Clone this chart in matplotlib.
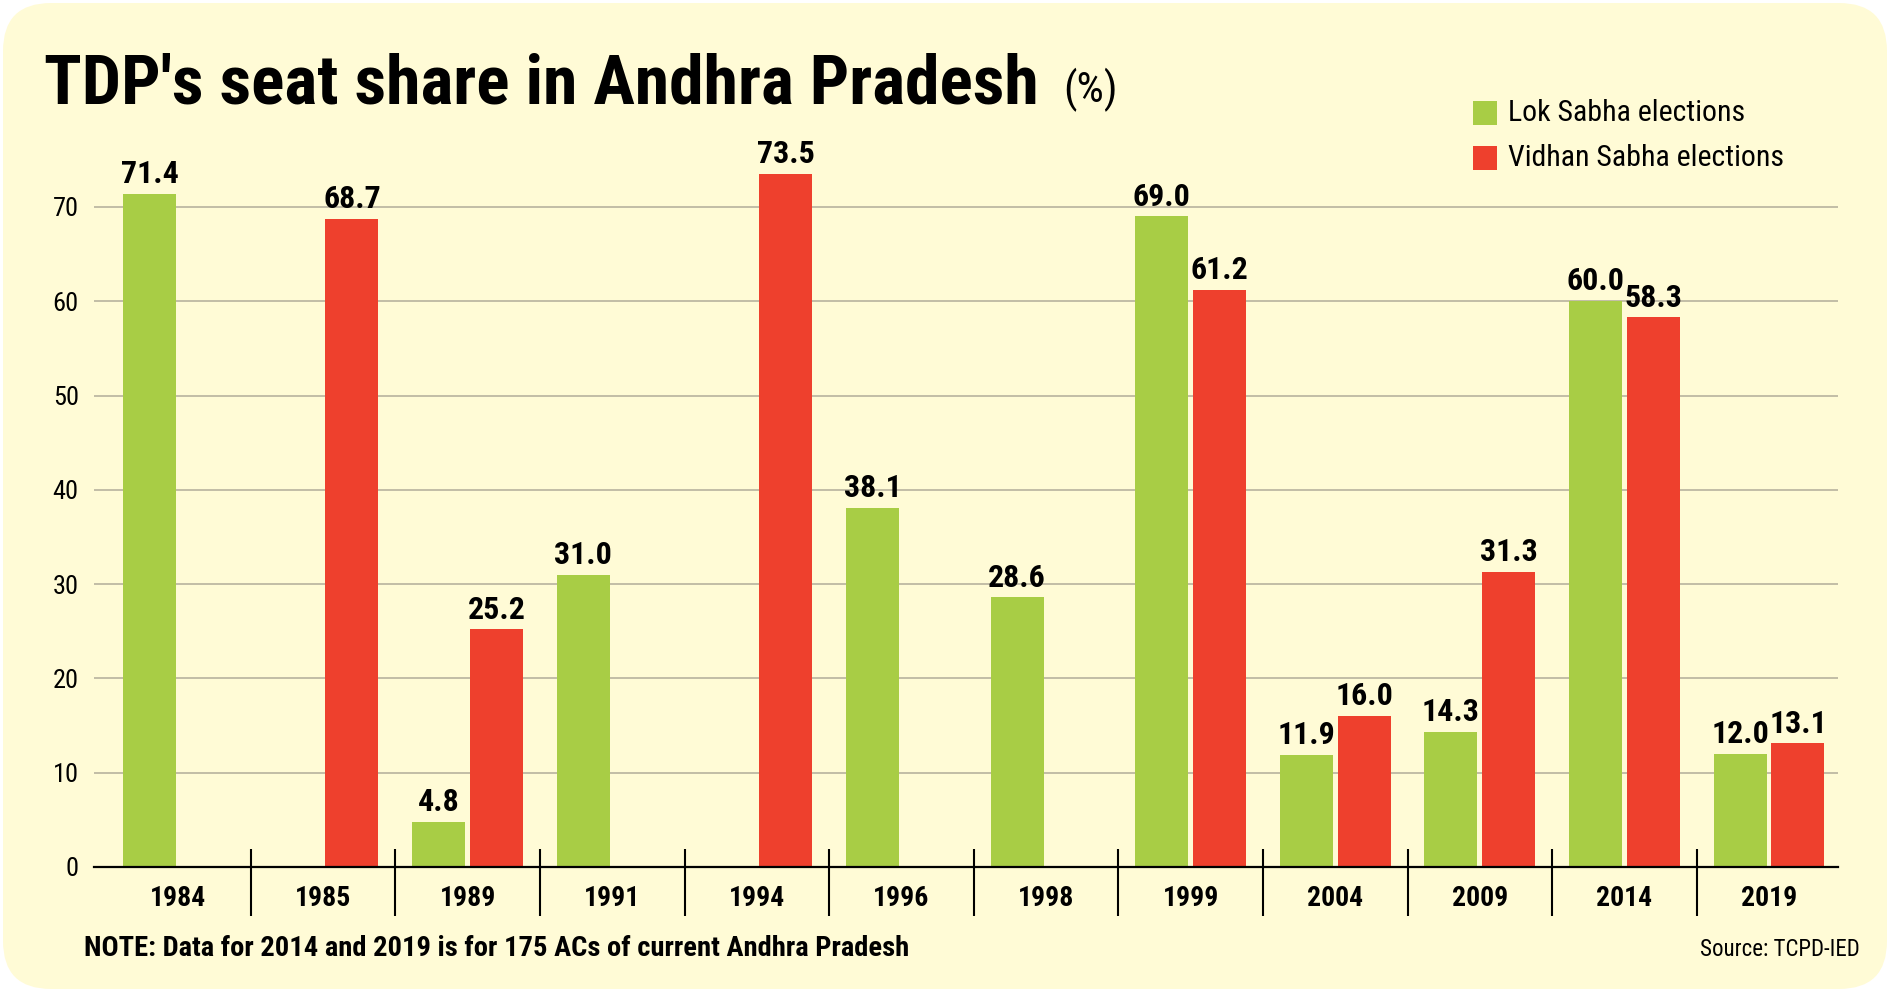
import numpy as np
import matplotlib
matplotlib.use("Agg")
import matplotlib.pyplot as plt
from matplotlib import font_manager
from matplotlib.patches import FancyBboxPatch, Rectangle

# data
years = ['1984', '1985', '1989', '1991', '1994', '1996', '1998',
         '1999', '2004', '2009', '2014', '2019']
lok_sabha = [71.4, np.nan, 4.8, 31.0, np.nan, 38.1, 28.6, 69.0, 11.9, 14.3, 60.0, 12.0]
vidhan_sabha = [np.nan, 68.7, 25.2, np.nan, 73.5, np.nan, np.nan, 61.2, 16.0, 31.3, 58.3, 13.1]
yticks = [0, 10, 20, 30, 40, 50, 60, 70]

green = '#A8CD45'
red = '#EE402D'
bg = '#FFFBD6'

# pick a narrow font if one is there
names = {f.name for f in font_manager.fontManager.ttflist}
fam = 'DejaVu Sans'
stretch = 'condensed'
for cand in ['Liberation Sans Narrow', 'Roboto Condensed', 'Open Sans Condensed']:
    if cand in names:
        fam = cand
        stretch = 'normal'
        break
plt.rcParams['font.family'] = [fam, 'DejaVu Sans']
plt.rcParams['font.stretch'] = stretch

W, H = 1890, 992
fig = plt.figure(figsize=(W / 100, H / 100), dpi=100, facecolor='white')

# rounded yellow card behind everything
bga = fig.add_axes([0, 0, 1, 1], zorder=0)
bga.set_xlim(0, W)
bga.set_ylim(H, 0)
bga.axis('off')
bga.add_patch(FancyBboxPatch((3, 3), W - 6, H - 6,
                             boxstyle='round,pad=0,rounding_size=48',
                             fc=bg, ec='none'))

# main axes, placed in pixels
x0, x1 = 94, 1838
y_zero = 867
px_unit = 9.43
ymax = 80
ax = fig.add_axes([x0 / W, 1 - y_zero / H, (x1 - x0) / W, ymax * px_unit / H], zorder=1)
ax.set_facecolor('none')

x = np.arange(len(years))
bw = 0.367
off = 0.2
ax.bar(x - off, lok_sabha, bw, color=green, zorder=3, label='Lok Sabha elections')
ax.bar(x + off, vidhan_sabha, bw, color=red, zorder=3, label='Vidhan Sabha elections')

for xs, vals in [(x - off, lok_sabha), (x + off, vidhan_sabha)]:
    for xi, v in zip(xs, vals):
        if not np.isnan(v):
            ax.text(xi, v + 0.5, f'{v:.1f}', ha='center', va='bottom',
                    fontsize=23, fontweight='bold', color='black', zorder=4)

ax.set_xlim(-0.584, 11.477)
ax.set_ylim(0, ymax)
ax.set_yticks(yticks)
ax.set_yticklabels([str(t) for t in yticks], fontsize=19)
ax.tick_params(axis='y', length=0, pad=11)
for t in yticks[1:]:
    ax.axhline(t, color='#BDB8A3', lw=1.3, zorder=1)
ax.axhline(0, color='black', lw=1.6, zorder=5, clip_on=False)

ax.set_xticks(x)
ax.set_xticklabels(years, fontsize=20, fontweight='bold')
ax.tick_params(axis='x', length=0, pad=13)

# category separators
ax.vlines(x[:-1] + 0.5, -5.2, 1.9, color='black', lw=1.5, clip_on=False, zorder=5)

for s in ax.spines.values():
    s.set_visible(False)

# title
fig.text(44 / W, 1 - 104 / H, "TDP's seat share in Andhra Pradesh", fontsize=50,
         fontweight='bold', ha='left', va='baseline')
fig.text(1063 / W, 1 - 102 / H, '(%)', fontsize=31, ha='left', va='baseline')

# legend drawn by hand
for i, (lab, col) in enumerate([('Lok Sabha elections', green),
                                ('Vidhan Sabha elections', red)]):
    yc = 113 + i * 45
    bga.add_patch(Rectangle((1473, yc - 12), 24, 24, fc=col, ec='none'))
    bga.text(1508, yc, lab, fontsize=21.5, ha='left', va='center')

fig.text(84 / W, 1 - 949 / H,
         'NOTE: Data for 2014 and 2019 is for 175 ACs of current Andhra Pradesh',
         fontsize=20.5, fontweight='bold', ha='left', va='center')
fig.text(1860 / W, 1 - 949 / H, 'Source: TCPD-IED', fontsize=16.5,
         ha='right', va='center')

fig.savefig('out.png', dpi=100, facecolor='white')
